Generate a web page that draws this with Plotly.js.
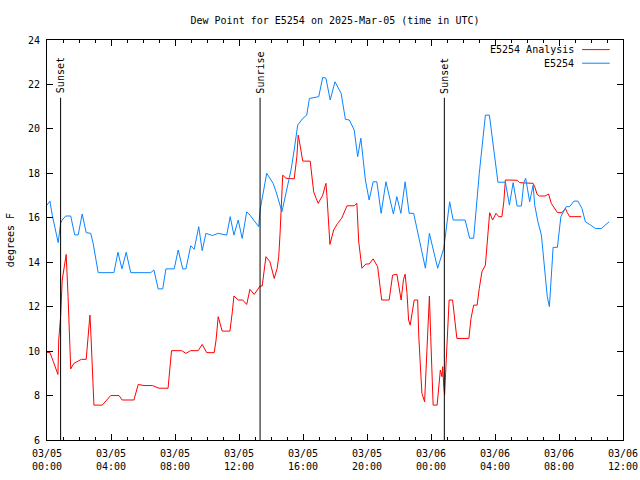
<!DOCTYPE html>
<html>
<head>
<meta charset="utf-8">
<script src="https://cdn.plot.ly/plotly-3.0.1.min.js"></script>
<style>html,body{margin:0;padding:0;background:#fff;}#chart{width:640px;height:480px;}</style>
</head>
<body>
<div id="chart"></div>
<script>
// E5254 (observed) dew point, degrees F
const obsTimes = [
"2025-03-05 00:00","2025-03-05 00:11","2025-03-05 00:20","2025-03-05 00:33","2025-03-05 00:42","2025-03-05 00:51","2025-03-05 00:57","2025-03-05 01:10","2025-03-05 01:29","2025-03-05 01:44",
"2025-03-05 01:57","2025-03-05 02:12","2025-03-05 02:27","2025-03-05 02:44","2025-03-05 02:53","2025-03-05 03:12","2025-03-05 04:11","2025-03-05 04:26","2025-03-05 04:41","2025-03-05 04:57",
"2025-03-05 05:14","2025-03-05 06:29","2025-03-05 06:41","2025-03-05 06:57","2025-03-05 07:14","2025-03-05 07:26","2025-03-05 07:57","2025-03-05 08:12","2025-03-05 08:29","2025-03-05 08:41",
"2025-03-05 08:59","2025-03-05 09:12","2025-03-05 09:29","2025-03-05 09:42","2025-03-05 09:56","2025-03-05 10:20","2025-03-05 10:42","2025-03-05 11:14","2025-03-05 11:27","2025-03-05 11:41",
"2025-03-05 11:57","2025-03-05 12:12","2025-03-05 12:29","2025-03-05 12:41","2025-03-05 13:14","2025-03-05 13:19","2025-03-05 13:44","2025-03-05 14:08","2025-03-05 14:19","2025-03-05 14:41",
"2025-03-05 14:56","2025-03-05 15:15","2025-03-05 15:27","2025-03-05 15:40","2025-03-05 15:59","2025-03-05 16:14","2025-03-05 16:24","2025-03-05 16:59","2025-03-05 17:14","2025-03-05 17:26",
"2025-03-05 17:42","2025-03-05 18:00","2025-03-05 18:23","2025-03-05 18:39","2025-03-05 18:54","2025-03-05 19:12","2025-03-05 19:25","2025-03-05 19:37","2025-03-05 19:54","2025-03-05 20:08",
"2025-03-05 20:23","2025-03-05 20:37","2025-03-05 20:53","2025-03-05 21:11","2025-03-05 21:39","2025-03-05 21:52","2025-03-05 22:07","2025-03-05 22:23","2025-03-05 22:38","2025-03-05 22:55",
"2025-03-05 23:39","2025-03-05 23:54","2025-03-06 00:25","2025-03-06 00:48","2025-03-06 01:10","2025-03-06 01:23","2025-03-06 02:08","2025-03-06 02:25","2025-03-06 02:40","2025-03-06 03:01",
"2025-03-06 03:24","2025-03-06 03:39","2025-03-06 04:11","2025-03-06 04:39","2025-03-06 04:54","2025-03-06 05:08","2025-03-06 05:23","2025-03-06 05:39","2025-03-06 05:48","2025-03-06 05:55",
"2025-03-06 06:10","2025-03-06 06:23","2025-03-06 06:29","2025-03-06 06:41","2025-03-06 06:54","2025-03-06 07:04","2025-03-06 07:16","2025-03-06 07:24","2025-03-06 07:38","2025-03-06 07:54",
"2025-03-06 08:07","2025-03-06 08:27","2025-03-06 08:40","2025-03-06 08:56","2025-03-06 09:11","2025-03-06 09:26","2025-03-06 09:39","2025-03-06 09:59","2025-03-06 10:16","2025-03-06 10:39",
"2025-03-06 11:08"
];
const obsValues = [
16.57,16.75,16.1,15.45,14.88,15.76,15.9,16.08,16.08,15.23,
15.23,16.17,15.33,15.3,14.85,13.53,13.53,14.45,13.7,14.45,
13.53,13.53,13.65,12.8,12.8,13.7,13.7,14.55,13.7,13.7,
14.74,14.58,15.6,14.52,15.3,15.2,15.3,15.22,16.05,15.22,
15.9,15.07,16.27,16.12,15.6,16.35,18.0,17.55,17.17,16.27,
17.1,18.15,19.05,20.17,20.47,20.62,21.37,21.45,22.32,22.28,
21.3,22.12,21.6,20.43,20.4,19.95,18.75,19.58,17.7,16.8,
17.62,17.62,16.2,17.62,16.17,16.95,16.2,17.62,16.2,16.2,
13.73,15.3,13.73,14.63,16.72,15.9,15.9,15.08,15.08,18.0,
20.62,20.62,17.6,17.6,16.57,17.58,16.53,16.53,17.58,17.78,
16.72,17.47,16.57,15.82,15.22,14.1,12.45,12.0,14.67,14.67,
16.05,16.5,16.5,16.75,16.75,16.42,15.82,15.67,15.52,15.52,
15.82
];

// E5254 Analysis dew point, degrees F
const anaTimes = [
"2025-03-05 00:00","2025-03-05 00:11","2025-03-05 00:24","2025-03-05 00:41","2025-03-05 00:44","2025-03-05 00:51","2025-03-05 00:57","2025-03-05 01:04","2025-03-05 01:08","2025-03-05 01:12",
"2025-03-05 01:19","2025-03-05 01:23","2025-03-05 01:29","2025-03-05 01:41","2025-03-05 01:54","2025-03-05 02:09","2025-03-05 02:27","2025-03-05 02:35","2025-03-05 02:41","2025-03-05 02:44",
"2025-03-05 02:50","2025-03-05 02:56","2025-03-05 03:27","2025-03-05 03:46","2025-03-05 03:59","2025-03-05 04:30","2025-03-05 04:42","2025-03-05 05:26","2025-03-05 05:42","2025-03-05 06:04",
"2025-03-05 06:35","2025-03-05 07:00","2025-03-05 07:34","2025-03-05 07:47","2025-03-05 08:25","2025-03-05 08:41","2025-03-05 08:59","2025-03-05 09:27","2025-03-05 09:42","2025-03-05 09:59",
"2025-03-05 10:27","2025-03-05 10:34","2025-03-05 10:42","2025-03-05 10:57","2025-03-05 11:26","2025-03-05 11:35","2025-03-05 11:41","2025-03-05 11:57","2025-03-05 12:14","2025-03-05 12:29",
"2025-03-05 12:41","2025-03-05 12:57","2025-03-05 13:19","2025-03-05 13:27","2025-03-05 13:41","2025-03-05 13:56","2025-03-05 14:12","2025-03-05 14:23","2025-03-05 14:29","2025-03-05 14:34",
"2025-03-05 14:41","2025-03-05 14:44","2025-03-05 14:56","2025-03-05 15:27","2025-03-05 15:37","2025-03-05 15:42","2025-03-05 15:49","2025-03-05 15:59","2025-03-05 16:27","2025-03-05 16:34",
"2025-03-05 16:40","2025-03-05 16:49","2025-03-05 16:57","2025-03-05 17:14","2025-03-05 17:26","2025-03-05 17:30","2025-03-05 17:36","2025-03-05 17:41","2025-03-05 17:55","2025-03-05 18:10",
"2025-03-05 18:25","2025-03-05 18:45","2025-03-05 19:12","2025-03-05 19:22","2025-03-05 19:29","2025-03-05 19:41","2025-03-05 19:56","2025-03-05 20:08","2025-03-05 20:23","2025-03-05 20:40",
"2025-03-05 20:46","2025-03-05 20:55","2025-03-05 21:23","2025-03-05 21:36","2025-03-05 21:52","2025-03-05 22:01","2025-03-05 22:08","2025-03-05 22:17","2025-03-05 22:23","2025-03-05 22:30",
"2025-03-05 22:36","2025-03-05 22:42","2025-03-05 22:51","2025-03-05 22:57","2025-03-05 23:10","2025-03-05 23:14","2025-03-05 23:21","2025-03-05 23:26","2025-03-05 23:36","2025-03-05 23:42",
"2025-03-05 23:49","2025-03-05 23:54","2025-03-05 23:59","2025-03-06 00:04","2025-03-06 00:08","2025-03-06 00:23","2025-03-06 00:29","2025-03-06 00:35","2025-03-06 00:41","2025-03-06 00:44",
"2025-03-06 00:48","2025-03-06 00:51","2025-03-06 00:56","2025-03-06 01:03","2025-03-06 01:08","2025-03-06 01:21","2025-03-06 01:29","2025-03-06 01:37","2025-03-06 02:22","2025-03-06 02:30",
"2025-03-06 02:40","2025-03-06 02:53","2025-03-06 03:01","2025-03-06 03:11","2025-03-06 03:24","2025-03-06 03:34","2025-03-06 03:40","2025-03-06 03:51","2025-03-06 04:04","2025-03-06 04:14",
"2025-03-06 04:26","2025-03-06 04:33","2025-03-06 04:39","2025-03-06 05:23","2025-03-06 05:32","2025-03-06 06:23","2025-03-06 06:29","2025-03-06 06:38","2025-03-06 06:47","2025-03-06 07:08",
"2025-03-06 07:21","2025-03-06 07:31","2025-03-06 07:44","2025-03-06 07:54","2025-03-06 08:11","2025-03-06 08:24","2025-03-06 08:31","2025-03-06 08:40","2025-03-06 09:23"
];
const anaValues = [
9.94,9.94,9.52,8.95,10.5,11.55,13.2,13.8,14.17,14.35,
12.45,11.1,9.2,9.45,9.52,9.63,9.63,10.95,11.62,10.95,
9.07,7.57,7.57,7.83,8.0,8.0,7.8,7.8,8.5,8.45,
8.45,8.33,8.33,10.02,10.02,9.9,10.02,10.02,10.3,9.93,
9.93,10.5,11.55,10.9,10.9,11.77,12.48,12.3,12.3,12.1,
12.78,12.55,12.93,12.93,14.25,14.02,13.27,13.72,14.25,15.3,
17.43,17.92,17.78,17.75,18.75,19.72,19.27,18.55,18.55,17.92,
17.17,16.88,16.65,17.02,17.55,16.95,15.82,14.8,15.45,15.75,
15.98,16.54,16.54,16.65,14.92,13.73,13.92,13.92,14.15,13.8,
13.2,12.3,12.3,13.42,13.46,12.9,12.3,13.23,13.46,12.6,
11.4,11.17,11.85,12.3,12.3,10.72,9.15,8.1,7.72,9.15,
10.8,12.48,10.65,9.15,7.57,7.57,8.33,9.15,8.85,9.3,
8.4,8.02,9.3,10.8,12.3,12.3,11.55,10.57,10.57,11.47,
12.07,12.07,12.82,13.57,13.87,15.37,16.23,15.9,16.2,16.05,
16.05,16.72,17.7,17.69,17.58,17.55,17.4,17.05,16.98,16.98,
17.07,16.65,16.38,16.23,16.23,16.42,16.23,16.05,16.05
];

const seriesNames = ["E5254 Analysis", "E5254"];
const seriesColors = ["#ff0000", "#0a84ff"];

// sun events
const sunTimes = ["2025-03-05 00:51", "2025-03-05 13:19", "2025-03-06 00:50"];
const sunLabels = ["Sunset", "Sunrise", "Sunset"];
const sunLineTop = 21.4;

const xRange = ["2025-03-05 00:00", "2025-03-06 12:00"];
const yRange = [6, 24];

const FONT = "DejaVu Sans Mono, monospace";

const traces = [
  {x: anaTimes, y: anaValues, name: seriesNames[0], type: "scatter", mode: "lines",
   line: {color: seriesColors[0], width: 1}, showlegend: false},
  {x: obsTimes, y: obsValues, name: seriesNames[1], type: "scatter", mode: "lines",
   line: {color: seriesColors[1], width: 1}, showlegend: false}
];

const shapes = sunTimes.map(t => ({
  type: "line", xref: "x", yref: "y", x0: t, x1: t, y0: yRange[0], y1: sunLineTop,
  line: {color: "#000", width: 1}
}));
const annotations = sunTimes.map((t, i) => ({
  xref: "x", yref: "y", x: t, y: sunLineTop + 0.1, text: sunLabels[i], textangle: -90,
  showarrow: false, xanchor: "center", yanchor: "bottom", font: {family: FONT, size: 10, color: "#000"}
}));

// legend (text left of sample line, as in the reference)
seriesNames.forEach((n, i) => {
  const yp = 0.976 - i * 0.034;
  annotations.push({xref: "paper", yref: "paper", x: 0.918, y: yp, text: n, showarrow: false,
    xanchor: "right", yanchor: "middle", font: {family: FONT, size: 10, color: "#000"}});
  shapes.push({type: "line", xref: "paper", yref: "paper", x0: 0.929, x1: 0.977, y0: yp, y1: yp,
    line: {color: seriesColors[i], width: 1}});
});

annotations.push({xref: "paper", yref: "paper", x: -0.064, y: 0.5, text: "degrees F", textangle: -90,
  showarrow: false, xanchor: "center", yanchor: "middle", font: {family: FONT, size: 10, color: "#000"}});

const layout = {
  width: 640, height: 480,
  margin: {l: 47, r: 17, t: 40, b: 40, pad: 0},
  paper_bgcolor: "#fff", plot_bgcolor: "#fff",
  font: {family: FONT, size: 10, color: "#000"},
  title: {text: "Dew Point for E5254 on 2025-Mar-05 (time in UTC)", font: {family: FONT, size: 10},
          x: 0.5, xref: "paper", y: 1 - 20 / 480, yref: "container", yanchor: "middle"},
  showlegend: false,
  xaxis: {
    type: "date", range: xRange, showgrid: false, zeroline: false,
    showline: true, linecolor: "#000", linewidth: 1, mirror: "ticks",
    ticks: "inside", ticklen: 6, tickcolor: "#000", tickwidth: 1,
    tick0: "2025-03-05 00:00", dtick: 4 * 3600000, tickformat: "%m/%d<br>%H:%M",
    ticklabelstandoff: 4,
    minor: {dtick: 3600000, ticks: "inside", ticklen: 3, tickcolor: "#000", showgrid: false},
    tickfont: {family: FONT, size: 10}
  },
  yaxis: {
    range: yRange, showgrid: false, zeroline: false,
    showline: true, linecolor: "#000", linewidth: 1, mirror: "ticks",
    ticks: "inside", ticklen: 6, tickcolor: "#000", tickwidth: 1,
    ticklabelstandoff: 4,
    dtick: 2, tickfont: {family: FONT, size: 10}
  },
  shapes: shapes,
  annotations: annotations
};

Plotly.newPlot("chart", traces, layout, {staticPlot: true, displayModeBar: false});
</script>
</body>
</html>
